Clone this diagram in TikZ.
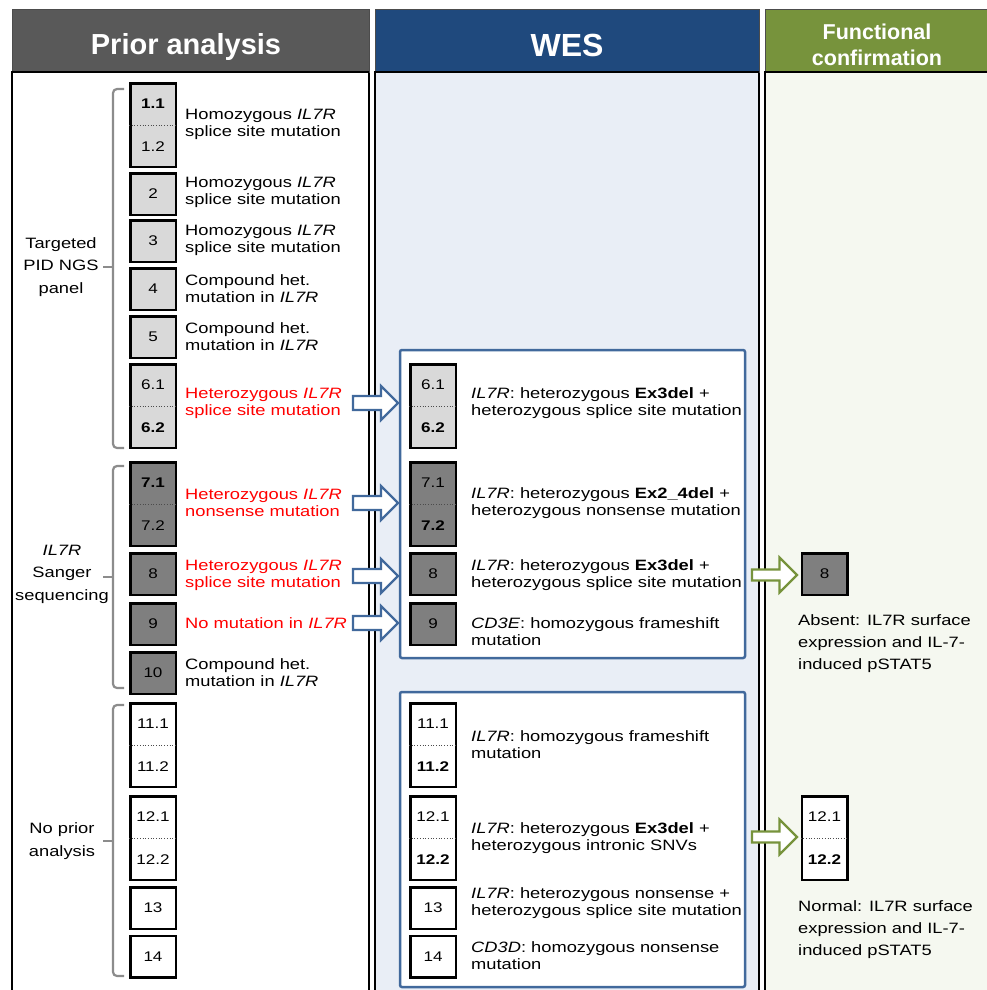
\documentclass[tikz,border=0pt]{standalone}
\usepackage{fontspec}
\setmainfont{Liberation Sans}[FakeStretch=1.22]
\newfontfamily\hdrfont{Liberation Sans}
\definecolor{hdrgray}{HTML}{595959}
\definecolor{hdrblue}{HTML}{1F497D}
\definecolor{hdrgreen}{HTML}{77933C}
\definecolor{wesbg}{HTML}{E9EEF6}
\definecolor{funcbg}{HTML}{F5F8F0}
\definecolor{boxlight}{HTML}{D9D9D9}
\definecolor{boxdark}{HTML}{7F7F7F}
\definecolor{groupblue}{HTML}{41699C}
\definecolor{brgray}{HTML}{8C8C8C}
\definecolor{redtxt}{HTML}{FF0000}
\newcommand\blockarrow[4]{%
  \draw[line width=2.2pt, draw=#4, fill=white, line join=miter]
    (#1,#3-7) -- (#2-17,#3-7) -- (#2-17,#3-17) -- (#2,#3) -- (#2-17,#3+17)
    -- (#2-17,#3+7) -- (#1,#3+7) -- cycle;}
\newcommand\greenarrow[3]{%
  \draw[line width=2.2pt, draw=hdrgreen, fill=white, line join=miter]
    (#1,#3-5.5) -- (#2-17.5,#3-5.5) -- (#2-17.5,#3-17.5) -- (#2,#3) -- (#2-17.5,#3+17.5)
    -- (#2-17.5,#3+5.5) -- (#1,#3+5.5) -- cycle;}
\begin{document}
\begin{tikzpicture}[x=1pt,y=-1pt,
  sbox/.style={draw=black, line width=2.5pt, minimum width=45.5pt, minimum height=41.5pt, inner sep=0pt,
    font=\fontsize{14}{16}\selectfont},
  dbox/.style={sbox, minimum height=83.5pt},
  num/.style={inner sep=0pt, font=\fontsize{14}{16}\selectfont},
  divider/.style={dotted, line width=0.7pt, draw=black!70},
  desc/.style={anchor=west, inner sep=0pt, align=left, font=\fontsize{15}{17}\selectfont},
  side/.style={inner sep=0pt, align=center, font=\fontsize{15}{22.5}\selectfont},
  func/.style={anchor=west, inner sep=0pt, align=left, font=\fontsize{15}{22}\selectfont},
  bracket/.style={draw=brgray, line width=2.2pt, rounded corners=4pt},
  colborder/.style={draw=black, line width=1.4pt},
  hdrtext/.style={text=white, inner sep=0pt, font=\hdrfont\bfseries}
]
\useasboundingbox (0,0) rectangle (987,990);
\clip (0,0) rectangle (987,990);
\fill[white] (0,0) rectangle (987,990);

% ---------- columns ----------
\filldraw[fill=white, colborder] (12,72) rectangle (369,1000);
\filldraw[fill=hdrgray, draw=black!70, line width=0.8pt] (12,9) rectangle (369,72);
\filldraw[fill=wesbg, colborder] (375,72) rectangle (759,1000);
\filldraw[fill=hdrblue, draw=black!70, line width=0.8pt] (375,9) rectangle (759,72);
\filldraw[fill=funcbg, colborder] (765,72) rectangle (1000,1000);
\filldraw[fill=hdrgreen, draw=black!70, line width=0.8pt] (765,9) rectangle (1000,72);
\draw[black, line width=2pt] (12,72) -- (369,72) (375,72) -- (759,72) (765,72) -- (1000,72);

\node[hdrtext, font=\hdrfont\bfseries\fontsize{29}{33}\selectfont] (h1) at (186,47) {Prior analysis};
\node[hdrtext, font=\hdrfont\bfseries\fontsize{32}{36}\selectfont] (h2) at (567,45) {WES};
\node[hdrtext, align=center, font=\hdrfont\bfseries\fontsize{21.5}{26}\selectfont] (h3) at (877,45) {Functional\\confirmation};

% ---------- brackets and side labels ----------
\draw[bracket] (124,89) -- (113,89) -- (113,448) -- (124,448);
\draw[bracket, rounded corners=2pt] (113,267) -- (103,267);
\draw[bracket] (124,466) -- (113,466) -- (113,688) -- (124,688);
\draw[bracket, rounded corners=2pt] (113,577) -- (103,577);
\draw[bracket] (124,705) -- (113,705) -- (113,976) -- (124,976);
\draw[bracket, rounded corners=2pt] (113,841) -- (103,841);

\node[side] (s1) at (61,267) {Targeted\\PID NGS\\panel};
\node[side] (s2) at (62,574) {\textit{IL7R}\\Sanger\\sequencing};
\node[side] (s3) at (62,841) {No prior\\analysis};

% ---------- prior analysis boxes ----------
\node[dbox, fill=boxlight] (p1) at (153,125) {};
\draw[divider] (p1.west) -- (p1.east);
\node[num] (p1a) at (153,103.5) {\textbf{1.1}};
\node[num] (p1b) at (153,146.5) {1.2};
\node[sbox, fill=boxlight] (p2) at (153,194) {2};
\node[sbox, fill=boxlight] (p3) at (153,241) {3};
\node[sbox, fill=boxlight] (p4) at (153,289) {4};
\node[sbox, fill=boxlight] (p5) at (153,337) {5};
\node[dbox, fill=boxlight] (p6) at (153,406) {};
\draw[divider] (p6.west) -- (p6.east);
\node[num] (p6a) at (153,384.5) {6.1};
\node[num] (p6b) at (153,427.5) {\textbf{6.2}};
\node[dbox, fill=boxdark] (p7) at (153,504) {};
\draw[divider] (p7.west) -- (p7.east);
\node[num] (p7a) at (153,482.5) {\textbf{7.1}};
\node[num] (p7b) at (153,525.5) {7.2};
\node[sbox, fill=boxdark] (p8) at (153,574) {8};
\node[sbox, fill=boxdark] (p9) at (153,624) {9};
\node[sbox, fill=boxdark] (p10) at (153,673) {10};
\node[dbox, fill=white] (p11) at (153,745) {};
\draw[divider] (p11.west) -- (p11.east);
\node[num] (p11a) at (153,723.5) {11.1};
\node[num] (p11b) at (153,766.5) {11.2};
\node[dbox, fill=white] (p12) at (153,838) {};
\draw[divider] (p12.west) -- (p12.east);
\node[num] (p12a) at (153,816.5) {12.1};
\node[num] (p12b) at (153,859.5) {12.2};
\node[sbox, fill=white] (p13) at (153,908) {13};
\node[sbox, fill=white] (p14) at (153,956.5) {14};

% ---------- prior descriptions ----------
\node[desc] (t1) at (185,124) {Homozygous \textit{IL7R}\\splice site mutation};
\node[desc] (t2) at (185,192) {Homozygous \textit{IL7R}\\splice site mutation};
\node[desc] (t3) at (185,240) {Homozygous \textit{IL7R}\\splice site mutation};
\node[desc] (t4) at (185,289) {Compound het.\\mutation in \textit{IL7R}};
\node[desc] (t5) at (185,337) {Compound het.\\mutation in \textit{IL7R}};
\node[desc, text=redtxt] (t6) at (185,403) {Heterozygous \textit{IL7R}\\splice site mutation};
\node[desc, text=redtxt] (t7) at (185,503) {Heterozygous \textit{IL7R}\\nonsense mutation};
\node[desc, text=redtxt] (t8) at (185,575) {Heterozygous \textit{IL7R}\\splice site mutation};
\node[desc, text=redtxt] (t9) at (185,623) {No mutation in \textit{IL7R}};
\node[desc] (t10) at (185,673) {Compound het.\\mutation in \textit{IL7R}};

% ---------- WES groups ----------
\filldraw[fill=white, draw=groupblue, line width=2.5pt, rounded corners=2pt] (400,350) rectangle (745,658);
\filldraw[fill=white, draw=groupblue, line width=2.5pt, rounded corners=2pt] (400,692) rectangle (745,987);

\node[dbox, fill=boxlight] (w6) at (433,406) {};
\draw[divider] (w6.west) -- (w6.east);
\node[num] (w6a) at (433,384.5) {6.1};
\node[num] (w6b) at (433,427.5) {\textbf{6.2}};
\node[dbox, fill=boxdark] (w7) at (433,504) {};
\draw[divider] (w7.west) -- (w7.east);
\node[num] (w7a) at (433,482.5) {7.1};
\node[num] (w7b) at (433,525.5) {\textbf{7.2}};
\node[sbox, fill=boxdark] (w8) at (433,574) {8};
\node[sbox, fill=boxdark] (w9) at (433,624) {9};
\node[dbox, fill=white] (w11) at (433,745) {};
\draw[divider] (w11.west) -- (w11.east);
\node[num] (w11a) at (433,723.5) {11.1};
\node[num] (w11b) at (433,766.5) {\textbf{11.2}};
\node[dbox, fill=white] (w12) at (433,838) {};
\draw[divider] (w12.west) -- (w12.east);
\node[num] (w12a) at (433,816.5) {12.1};
\node[num] (w12b) at (433,859.5) {\textbf{12.2}};
\node[sbox, fill=white] (w13) at (433,908) {13};
\node[sbox, fill=white] (w14) at (433,956.5) {14};

\node[desc] (u6) at (471,403) {\textit{IL7R}: heterozygous \textbf{Ex3del} +\\heterozygous splice site mutation};
\node[desc] (u7) at (471,503) {\textit{IL7R}: heterozygous \textbf{Ex2\_4del} +\\heterozygous nonsense mutation};
\node[desc] (u8) at (471,575) {\textit{IL7R}: heterozygous \textbf{Ex3del} +\\heterozygous splice site mutation};
\node[desc] (u9) at (471,632) {\textit{CD3E}: homozygous frameshift\\mutation};
\node[desc] (u11) at (471,745) {\textit{IL7R}: homozygous frameshift\\mutation};
\node[desc] (u12) at (471,838) {\textit{IL7R}: heterozygous \textbf{Ex3del} +\\heterozygous intronic SNVs};
\node[desc] (u13) at (471,903) {\textit{IL7R}: heterozygous nonsense +\\heterozygous splice site mutation};
\node[desc] (u14) at (471,956) {\textit{CD3D}: homozygous nonsense\\mutation};

% ---------- blue block arrows ----------
\blockarrow{353}{398}{403}{groupblue}
\blockarrow{353}{398}{503}{groupblue}
\blockarrow{353}{398}{576}{groupblue}
\blockarrow{353}{398}{623}{groupblue}

% ---------- functional confirmation ----------
\greenarrow{752}{797}{575}
\greenarrow{752}{797}{837}

\node[sbox, fill=boxdark] (f8) at (824.5,574) {8};
\node[dbox, fill=white] (f12) at (824.5,838) {};
\draw[divider] (f12.west) -- (f12.east);
\node[num] (f12a) at (824.5,816.5) {12.1};
\node[num] (f12b) at (824.5,859.5) {\textbf{12.2}};

\node[func] (v8) at (798,644) {Absent: IL7R surface\\expression and IL-7-\\induced pSTAT5};
\node[func] (v12) at (798,930) {Normal: IL7R surface\\expression and IL-7-\\induced pSTAT5};
\end{tikzpicture}
\end{document}
